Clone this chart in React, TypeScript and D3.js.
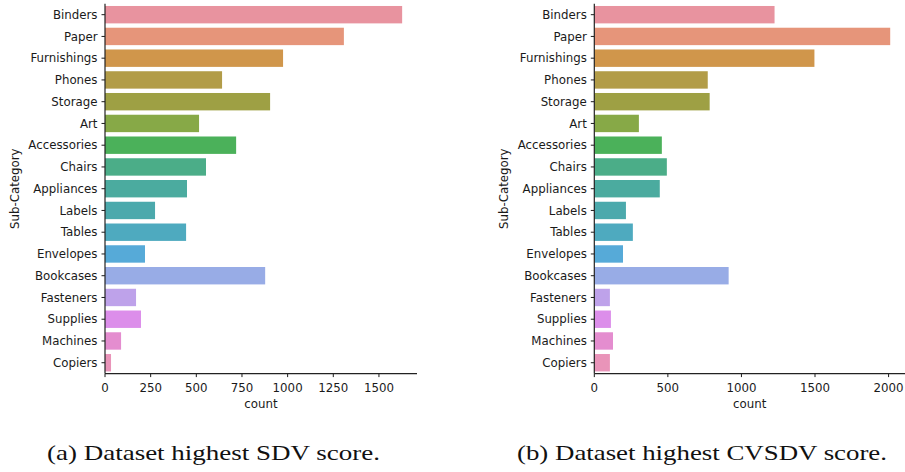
import React from "react";
import * as d3 from "d3";

// Sub-category order along the y axis
const categories = [
  "Binders", "Paper", "Furnishings", "Phones", "Storage", "Art", "Accessories",
  "Chairs", "Appliances", "Labels", "Tables", "Envelopes", "Bookcases",
  "Fasteners", "Supplies", "Machines", "Copiers",
];

// Row counts per sub-category in each dataset
const countsSDV = [1627, 1308, 975, 641, 904, 515, 718, 553, 449, 274, 444, 219, 877, 170, 197, 88, 33];
const countsCVSDV = [1225, 2011, 1496, 771, 784, 303, 459, 493, 445, 215, 262, 195, 913, 106, 113, 127, 106];

const ticksSDV = [0, 250, 500, 750, 1000, 1250, 1500];
const ticksCVSDV = [0, 500, 1000, 1500, 2000];

const captions = ["(a) Dataset highest SDV score.", "(b) Dataset highest CVSDV score."];

// Muted hue-wheel palette, one colour per sub-category
const palette = [
  "#e8939f", "#e6957a", "#d0964b", "#b29c48", "#9ea044", "#87a947",
  "#4bb15a", "#4bad88", "#4bab9f", "#4ba9ac", "#4eaabf", "#56aad8",
  "#98ace6", "#bea2ea", "#dc8eea", "#e48dcf", "#e994b9",
];

const FONT = "'DejaVu Sans', sans-serif";
const TXT = "#1a1a1a";

type PanelProps = {
  counts: number[];
  ticks: number[];
  left: number;
  right: number;
  caption: string;
  captionX: number;
  captionW: number;
  labelX: number;
};

function Panel({ counts, ticks, left, right, caption, captionX, captionW, labelX }: PanelProps) {
  const top = 3.8, bottom = 373.6;
  const maxV = d3.max(counts) as number;
  const x = d3.scaleLinear().domain([0, maxV * 1.05]).range([left, right]);
  const y = d3.scaleBand<string>().domain(categories).range([top, bottom]).paddingInner(0.2).paddingOuter(0.1);
  const color = d3.scaleOrdinal<string, string>().domain(categories).range(palette);
  const midX = (left + right) / 2;
  const midY = (top + bottom) / 2;
  return (
    <g>
      {categories.map((c, i) => (
        <rect key={c} x={x(0)} y={y(c)} width={x(counts[i]) - x(0)} height={y.bandwidth()} fill={color(c)} />
      ))}
      {categories.map((c) => {
        const yy = (y(c) as number) + y.bandwidth() / 2;
        return (
          <g key={"t" + c}>
            <line x1={left - 3.5} x2={left} y1={yy} y2={yy} stroke={TXT} strokeWidth={1} />
            <text x={left - 7.5} y={yy} dy="0.36em" textAnchor="end" fontFamily={FONT} fontSize={11.8} fill={TXT}>
              {c}
            </text>
          </g>
        );
      })}
      {ticks.map((t) => (
        <g key={"x" + t}>
          <line x1={x(t)} x2={x(t)} y1={bottom} y2={bottom + 3.5} stroke={TXT} strokeWidth={1} />
          <text x={x(t)} y={391.8} textAnchor="middle" fontFamily={FONT} fontSize={11.8} fill={TXT}>
            {t}
          </text>
        </g>
      ))}
      <line x1={left} x2={left} y1={top} y2={bottom} stroke="#222" strokeWidth={1.2} />
      <line x1={left} x2={right} y1={bottom} y2={bottom} stroke="#222" strokeWidth={1.2} />
      <text x={midX} y={407.5} textAnchor="middle" fontFamily={FONT} fontSize={11.8} fill={TXT}>
        count
      </text>
      <text
        transform={`translate(${labelX},${midY}) rotate(-90)`}
        textAnchor="middle"
        fontFamily={FONT}
        fontSize={11.8}
        fill={TXT}
      >
        Sub-Category
      </text>
      <text
        x={captionX}
        y={460}
        fontFamily="'Liberation Serif', 'DejaVu Serif', serif"
        fontSize={21}
        fill="#111"
        textLength={captionW}
        lengthAdjust="spacingAndGlyphs"
      >
        {caption}
      </text>
    </g>
  );
}

export default function App() {
  return (
    <svg
      width={905}
      height={472}
      viewBox="0 0 905 472"
      style={{ position: "absolute", left: 0, top: 0, background: "#fff" }}
    >
      <rect width={905} height={472} fill="#fff" />
      <Panel counts={countsSDV} ticks={ticksSDV} left={105} right={417} caption={captions[0]} captionX={47} captionW={333} labelX={18.5} />
      <Panel counts={countsCVSDV} ticks={ticksCVSDV} left={594.3} right={905} caption={captions[1]} captionX={517} captionW={370} labelX={507.5} />
    </svg>
  );
}
